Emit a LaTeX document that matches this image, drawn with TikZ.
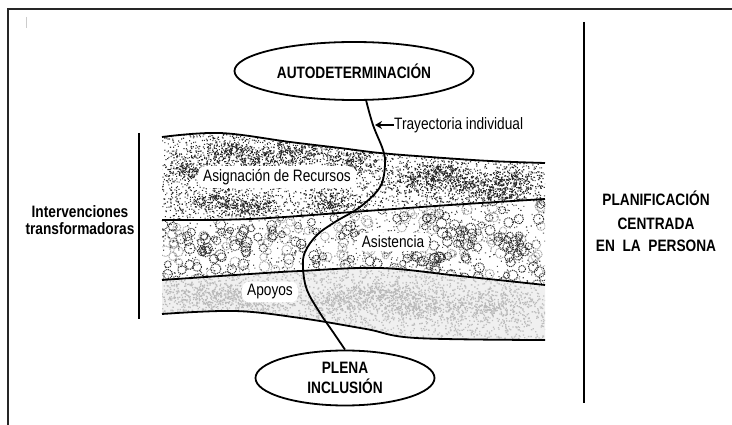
\documentclass[tikz,border=0pt]{standalone}
\usepackage{fontspec}
\setmainfont{Liberation Sans}[FakeStretch=0.83]
\usetikzlibrary{shapes.geometric,arrows.meta}
\begin{document}
\begin{tikzpicture}[x=1pt,y=-1pt,
  lbl/.style={font=\fontsize{16.5}{17}\selectfont},
  blbl/.style={font=\fontsize{16.5}{17}\selectfont\bfseries},
  oval/.style={draw, ellipse, line width=1.8pt, inner sep=0pt, align=center, fill=white},
  bandline/.style={line width=1.8pt},
  halo/.style={fill=white, rounded corners=7pt, inner xsep=5pt, inner ysep=3pt},
  divider/.style={line width=1.8pt}]
\useasboundingbox (0,0) rectangle (732,425);
% frame
\draw[line width=1.4pt, black!85] (8,425) -- (8,9) -- (732,9);
\draw[gray!40, line width=1pt] (26,17) -- (26,28);
% dividers
\draw[divider] (139,133) -- (139,319);
\draw[divider] (584,22) -- (584,403);
\pgfmathsetseed{7}
% top band texture
\begin{scope}
\clip plot[smooth,tension=0.6] coordinates {(162,137) (220,133) (290,142) (340,148) (380,153) (430,157) (490,161) (545,163)} -- (545,430) -- (162,430) -- cycle;
\clip plot[smooth,tension=0.6] coordinates {(162,220) (250,219) (366,211) (450,205) (545,199)} -- (545,0) -- (162,0) -- cycle;
\foreach \k in {1,...,40} {
  \fill[black!80] foreach \i in {1,...,100} { ({162+383*rnd},{128+95*rnd}) rectangle ++(1.1,1.1) };
}
\foreach \cx/\cy in {230/150,262/158,300/152,190/168,215/200,330/202,420/180,470/186,510/178,440/172,350/160,250/205,500/195} {
  \fill[black!85] foreach \i in {1,...,200} { ({\cx+(rnd+rnd+rnd-1.5)*26},{\cy+(rnd+rnd+rnd-1.5)*12}) rectangle ++(1.1,1.1) };
}
\end{scope}
% middle band texture
\begin{scope}
\clip plot[smooth,tension=0.6] coordinates {(162,220) (250,219) (366,211) (450,205) (545,199)} -- (545,430) -- (162,430) -- cycle;
\clip plot[smooth,tension=0.6] coordinates {(162,280) (250,274) (300,271) (380,268) (460,276) (545,285)} -- (545,0) -- (162,0) -- cycle;
\foreach \k in {1,...,6} {
  \draw[gray!70, line width=1pt, dash pattern=on 1pt off 0.8pt] foreach \i in {1,...,24} { ({162+383*rnd},{196+92*rnd}) circle ({3+2.5*rnd}) };
  \draw[black!85, line width=1pt, dash pattern=on 1pt off 0.9pt] foreach \i in {1,...,24} { ({162+383*rnd},{196+92*rnd}) circle ({3+2.5*rnd}) };
  \fill[black!70] foreach \i in {1,...,200} { ({162+383*rnd},{196+92*rnd}) rectangle ++(1.1,1.1) };
}
\foreach \cx/\cy in {200/245,250/240,470/235,515/245,430/255} {
  \draw[black!80, line width=1pt, dash pattern=on 1pt off 0.9pt] foreach \i in {1,...,14} { ({\cx+(rnd+rnd-1)*30},{\cy+(rnd+rnd-1)*14}) circle ({3+2.5*rnd}) };
}
\end{scope}
% bottom band texture
\begin{scope}
\clip plot[smooth,tension=0.6] coordinates {(162,280) (250,274) (300,271) (380,268) (460,276) (545,285)} -- (545,430) -- (162,430) -- cycle;
\clip plot[smooth,tension=0.6] coordinates {(162,314) (235,311) (300,318) (366,329) (416,338) (545,340)} -- (545,0) -- (162,0) -- cycle;
\fill[gray!12] (150,260) rectangle (550,345);
\foreach \k in {1,...,30} {
  \fill[gray!50] foreach \i in {1,...,100} { ({162+383*rnd},{265+78*rnd}) rectangle ++(1.3,1.3) };
}
\foreach \cx/\cy in {200/295,340/300,420/305,490/305,250/300,380/295} {
  \fill[gray!55] foreach \i in {1,...,240} { ({\cx+(rnd+rnd+rnd-1.5)*40},{\cy+(rnd+rnd+rnd-1.5)*14}) rectangle ++(1.3,1.3) };
}
\end{scope}
% band boundaries
\draw[bandline] plot[smooth,tension=0.6] coordinates {(162,137) (220,133) (290,142) (340,148) (380,153) (430,157) (490,161) (545,163)};
\draw[bandline] plot[smooth,tension=0.6] coordinates {(162,220) (250,219) (366,211) (450,205) (545,199)};
\draw[bandline] plot[smooth,tension=0.6] coordinates {(162,280) (250,274) (300,271) (380,268) (460,276) (545,285)};
\draw[bandline] plot[smooth,tension=0.6] coordinates {(162,314) (235,311) (300,318) (366,329) (416,338) (545,340)};
% band labels
\node[halo, lbl] (rec) at (277,177) {Asignación de Recursos};
\node[halo, lbl] (asis) at (393,242) {Asistencia};
\node[halo, lbl] (apo) at (270,292) {Apoyos};
% ovals
\node[oval, blbl, minimum width=239pt, minimum height=58pt] (top) at (354,71) {AUTODETERMINACIÓN};
\node[oval, blbl, minimum width=179pt, minimum height=55pt] (bot) at (345,378) {PLENA\\[3pt]INCLUSIÓN};
% trajectory
\coordinate (t0) at (366,100);
\draw[line width=1.8pt] plot[smooth,tension=0.6] coordinates {(t0) (373,125) (383,150) (385,165) (380,187) (360,207) (335,222) (317,235) (305,252) (303,268) (307,290) (320,313) (333,332) (bot.north)};
% trajectory label
\node[lbl, anchor=west, inner sep=0pt] (trajlbl) at (394,125) {Trayectoria individual};
\coordinate (tip) at (375,125);
\draw[-{Stealth[length=7pt,width=8pt]}, line width=1.6pt] (trajlbl.west) -- (tip);
% side texts
\node[blbl, align=center] (interv) at (80,220) {Intervenciones\\transformadoras};
\node[blbl, align=center] (pcp) at (656,221) {PLANIFICACIÓN\\[7pt]CENTRADA\\[5pt]EN~~LA~~PERSONA};
\end{tikzpicture}
\end{document}
